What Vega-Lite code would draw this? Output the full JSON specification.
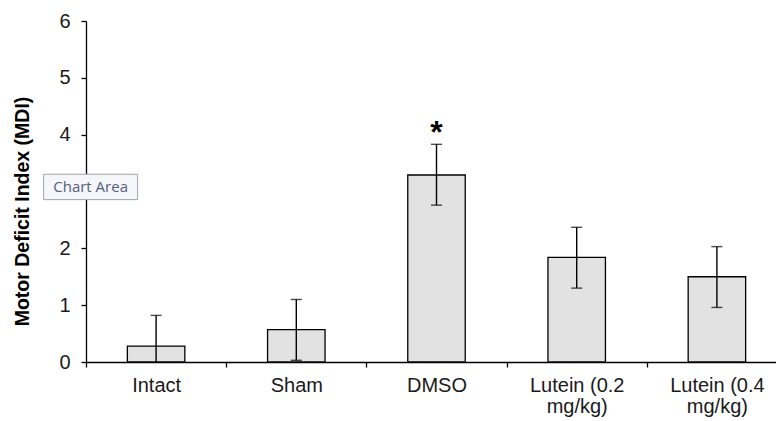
{
  "$schema": "https://vega.github.io/schema/vega-lite/v6.json",
  "autosize": {"type": "none"},
  "padding": {"left": 86, "top": 21, "right": 0, "bottom": 59},
  "width": 690,
  "height": 341,
  "background": "white",
  "config": {"view": {"stroke": null}, "font": "Liberation Sans"},
  "datasets": {
    "groups": [
      {"group": "Intact", "mdi": 0.28, "hi": 0.82, "lo": -0.26},
      {"group": "Sham", "mdi": 0.57, "hi": 1.10, "lo": 0.03},
      {"group": "DMSO", "mdi": 3.29, "hi": 3.83, "lo": 2.76},
      {"group": "Lutein (0.2 mg/kg)", "mdi": 1.84, "hi": 2.37, "lo": 1.30},
      {"group": "Lutein (0.4 mg/kg)", "mdi": 1.50, "hi": 2.03, "lo": 0.96}
    ],
    "marks": [
      {"group": "DMSO", "label": "*", "pos": 3.86}
    ],
    "tip": [
      {"group": "Intact", "label": "Chart Area", "pos": 3.08}
    ]
  },
  "layer": [
    {
      "data": {"name": "groups"},
      "mark": {"type": "bar", "fill": "#e2e2e2", "stroke": "#000000", "strokeWidth": 1.3, "width": {"band": 0.41}},
      "encoding": {
        "x": {
          "field": "group", "type": "nominal", "sort": null,
          "scale": {"range": [0, 701], "paddingInner": 0, "paddingOuter": 0},
          "axis": {
            "title": null, "labelAngle": 0, "tickBand": "extent",
            "domainColor": "#000000", "domainWidth": 1.3, "tickColor": "#000000", "tickWidth": 1.3, "tickSize": 5,
            "labelFont": "Liberation Sans", "labelFontSize": 20, "labelColor": "#1a1a1a", "labelPadding": 8,
            "labelLineHeight": 21, "labelBaseline": "top",
            "labelExpr": "datum.label == 'Lutein (0.2 mg/kg)' ? ['Lutein (0.2', 'mg/kg)'] : datum.label == 'Lutein (0.4 mg/kg)' ? ['Lutein (0.4', 'mg/kg)'] : datum.label"
          }
        },
        "y": {
          "field": "mdi", "type": "quantitative",
          "scale": {"domain": [0, 6], "nice": false},
          "axis": {
            "title": "Motor Deficit Index (MDI)", "values": [0, 1, 2, 4, 5, 6], "format": "d", "grid": false,
            "domainColor": "#000000", "domainWidth": 1.3, "tickColor": "#000000", "tickWidth": 1.3, "tickSize": 5,
            "labelFont": "Liberation Sans", "labelFontSize": 20, "labelColor": "#1a1a1a", "labelPadding": 11,
            "titleFont": "Liberation Sans", "titleFontSize": 19.5, "titleFontWeight": "bold", "titleColor": "#000000",
            "titleX": -54, "titleY": 190, "titleAlign": "center", "titleBaseline": "bottom", "titleAngle": -90
          }
        }
      }
    },
    {
      "data": {"name": "groups"},
      "mark": {"type": "rule", "color": "#000000", "strokeWidth": 1.4, "clip": true},
      "encoding": {
        "x": {"field": "group", "type": "nominal", "sort": null},
        "y": {"field": "lo", "type": "quantitative"},
        "y2": {"field": "hi"}
      }
    },
    {
      "data": {"name": "groups"},
      "mark": {"type": "tick", "color": "#000000", "thickness": 1.4, "size": 11, "orient": "horizontal", "clip": true},
      "encoding": {
        "x": {"field": "group", "type": "nominal", "sort": null},
        "y": {"field": "hi", "type": "quantitative"}
      }
    },
    {
      "data": {"name": "groups"},
      "mark": {"type": "tick", "color": "#000000", "thickness": 1.4, "size": 11, "orient": "horizontal", "clip": true},
      "encoding": {
        "x": {"field": "group", "type": "nominal", "sort": null},
        "y": {"field": "lo", "type": "quantitative"}
      }
    },
    {
      "data": {"name": "marks"},
      "mark": {"type": "text", "font": "Liberation Sans", "fontSize": 32, "fontWeight": "bold", "baseline": "alphabetic", "align": "center", "color": "#000000"},
      "encoding": {
        "x": {"field": "group", "type": "nominal", "sort": null},
        "y": {"field": "pos", "type": "quantitative"},
        "text": {"field": "label"}
      }
    },
    {
      "data": {"name": "tip"},
      "mark": {"type": "point", "shape": "M-1,-0.27L1,-0.27L1,0.27L-1,0.27Z", "size": 8836, "filled": true, "fill": "#f4f6fa", "stroke": "#a0a4ab", "strokeWidth": 1, "opacity": 1, "xOffset": -65.5},
      "encoding": {
        "x": {"field": "group", "type": "nominal", "sort": null},
        "y": {"field": "pos", "type": "quantitative"}
      }
    },
    {
      "data": {"name": "tip"},
      "mark": {"type": "text", "font": "Open Sans", "fontSize": 15, "baseline": "middle", "align": "center", "color": "#55607a", "xOffset": -65.5},
      "encoding": {
        "x": {"field": "group", "type": "nominal", "sort": null},
        "y": {"field": "pos", "type": "quantitative"},
        "text": {"field": "label"}
      }
    }
  ]
}
